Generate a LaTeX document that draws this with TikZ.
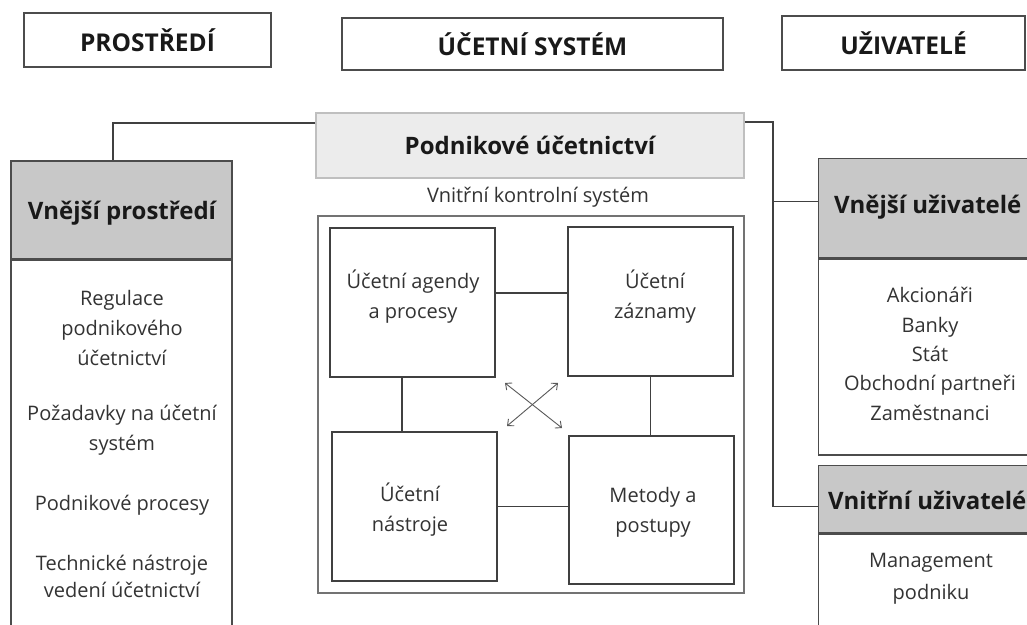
\documentclass[tikz,border=0pt]{standalone}
\usepackage{fontspec}
\setmainfont{Open Sans}
\usetikzlibrary{arrows.meta,calc}
\definecolor{txt}{HTML}{333333}
\definecolor{hdrfill}{HTML}{C8C8C8}
\definecolor{podfill}{HTML}{ECECEC}
\tikzset{
  frame/.style={draw=black!70, line width=1.3pt, rectangle, inner sep=0pt},
  titlebox/.style={frame, fill=white, font=\bfseries\fontsize{24.5}{28}\selectfont, text=black!90},
  hdrbox/.style={frame, fill=hdrfill},
  bodybox/.style={frame, fill=white},
  innerbox/.style={draw=black!75, line width=1.1pt, rectangle, inner sep=0pt},
  hdrtext/.style={font=\bfseries\fontsize{24}{28}\selectfont, text=black!90, inner sep=0pt},
  bodytext/.style={font=\fontsize{20}{30}\selectfont, text=txt, align=center, inner sep=0pt},
  link/.style={draw=black!75, line width=1.1pt},
  cross/.style={draw=black!65, line width=0.9pt, {Straight Barb[length=5pt,width=9pt]}-{Straight Barb[length=5pt,width=9pt]}}
}
\begin{document}
\begin{tikzpicture}[x=1pt, y=-1pt]
\useasboundingbox (0,0) rectangle (1027,624);
\fill[white] (0,0) rectangle (1027,624);

% column titles
\node[titlebox, minimum width=247pt, minimum height=54pt] (prost) at (147.5,40) {PROSTŘEDÍ};
\node[titlebox, minimum width=381pt, minimum height=52pt] (ucsys) at (532.5,44) {ÚČETNÍ SYSTÉM};
\node[titlebox, minimum width=243pt, minimum height=54pt] (uziv) at (903.5,43) {UŽIVATELÉ};

% central block
\node[draw=black!25, line width=1.2pt, fill=podfill, minimum width=428pt, minimum height=65pt, inner sep=0pt,
      font=\bfseries\fontsize{24}{28}\selectfont, text=black!90] (podn) at (530,145.5) {Podnikové účetnictví};
\node[bodytext] (vks) at (538,197) {Vnitřní kontrolní systém};
\node[draw=black!55, line width=1.8pt, minimum width=426pt, minimum height=377pt, inner sep=0pt] (outer) at (531,404.5) {};

\node[innerbox, minimum width=165pt, minimum height=149pt] (b1) at (412.5,302.5) {};
\node[innerbox, minimum width=165pt, minimum height=149pt] (b2) at (650.5,301.5) {};
\node[innerbox, minimum width=165pt, minimum height=149pt] (b3) at (414.5,506.5) {};
\node[innerbox, minimum width=165pt, minimum height=148pt] (b4) at (651.5,510) {};

\node[bodytext] (t1) at (413,297) {Účetní agendy\\a procesy};
\node[bodytext] (t2) at (655,297) {Účetní\\záznamy};
\node[bodytext] (t3) at (410,510) {Účetní\\nástroje};
\node[bodytext] (t4) at (653,512) {Metody a\\postupy};

\draw[link] ([yshift=9.5pt]b1.east) -- ([yshift=9.5pt]b1.east -| b2.west);
\draw[link] ([xshift=-10.5pt]b1.south) -- ([xshift=-10.5pt]b1.south |- b3.north);
\draw[link] (b2.south) -- (b2.south |- b4.north);
\draw[link] (b3.east) -- (b3.east -| b4.west);

% diagonal relations between the four parts
\coordinate (xa) at (505,383);
\coordinate (xb) at (562,428);
\coordinate (xc) at (507,426);
\coordinate (xd) at (558,383);
\draw[cross] (xa) -- (xb);
\draw[cross] (xc) -- (xd);

% environment column
\node[hdrbox, minimum width=221pt, minimum height=98pt] (vph) at (121.5,210) {};
\node[bodybox, minimum width=221pt, minimum height=381pt, anchor=north] (vpb) at (vph.south) {};
\node[hdrtext] (vpht) at (122,213) {Vnější prostředí};
\node[bodytext] (e1) at (122,328) {Regulace\\podnikového\\účetnictví};
\node[bodytext] (e2) at (122,430) {Požadavky na účetní\\systém};
\node[bodytext] (e3) at (122,505) {Podnikové procesy};
\node[bodytext, font=\fontsize{20}{27}\selectfont] (e4) at (122,576) {Technické nástroje\\vedení účetnictví};

% users column
\node[hdrbox, minimum width=227pt, minimum height=99pt, anchor=north west] (vnu) at (818,158) {};
\node[bodybox, minimum width=227pt, minimum height=196pt, anchor=north] (vnub) at (vnu.south) {};
\node[hdrtext, anchor=west] (vnut) at (834,207) {Vnější uživatelé};
\node[bodytext, font=\fontsize{20}{29.3}\selectfont] (u1) at (930,354) {Akcionáři\\Banky\\Stát\\Obchodní partneři\\Zaměstnanci};

\node[hdrbox, minimum width=227pt, minimum height=67pt, anchor=north west] (viu) at (818,465) {};
\node[bodybox, minimum width=227pt, minimum height=110pt, anchor=north] (viub) at (viu.south) {};
\node[hdrtext, anchor=west] (viut) at (828,500) {Vnitřní uživatelé};
\node[bodytext, font=\fontsize{20}{32}\selectfont] (u2) at (931,579) {Management\\podniku};

% connections from accounting to environment and users
\draw[link] ([yshift=22.5pt]podn.west) -| ([xshift=-8.5pt]vph.north);
\draw[link] ([yshift=23.5pt]podn.east) -| ($(viu.west)+(-45,7.5)$) -- ($(viu.west)+(0,7.5)$);
\draw[link] ($(vnu.west)+(-45,-6.5)$) -- ($(vnu.west)+(0,-6.5)$);
\end{tikzpicture}
\end{document}
